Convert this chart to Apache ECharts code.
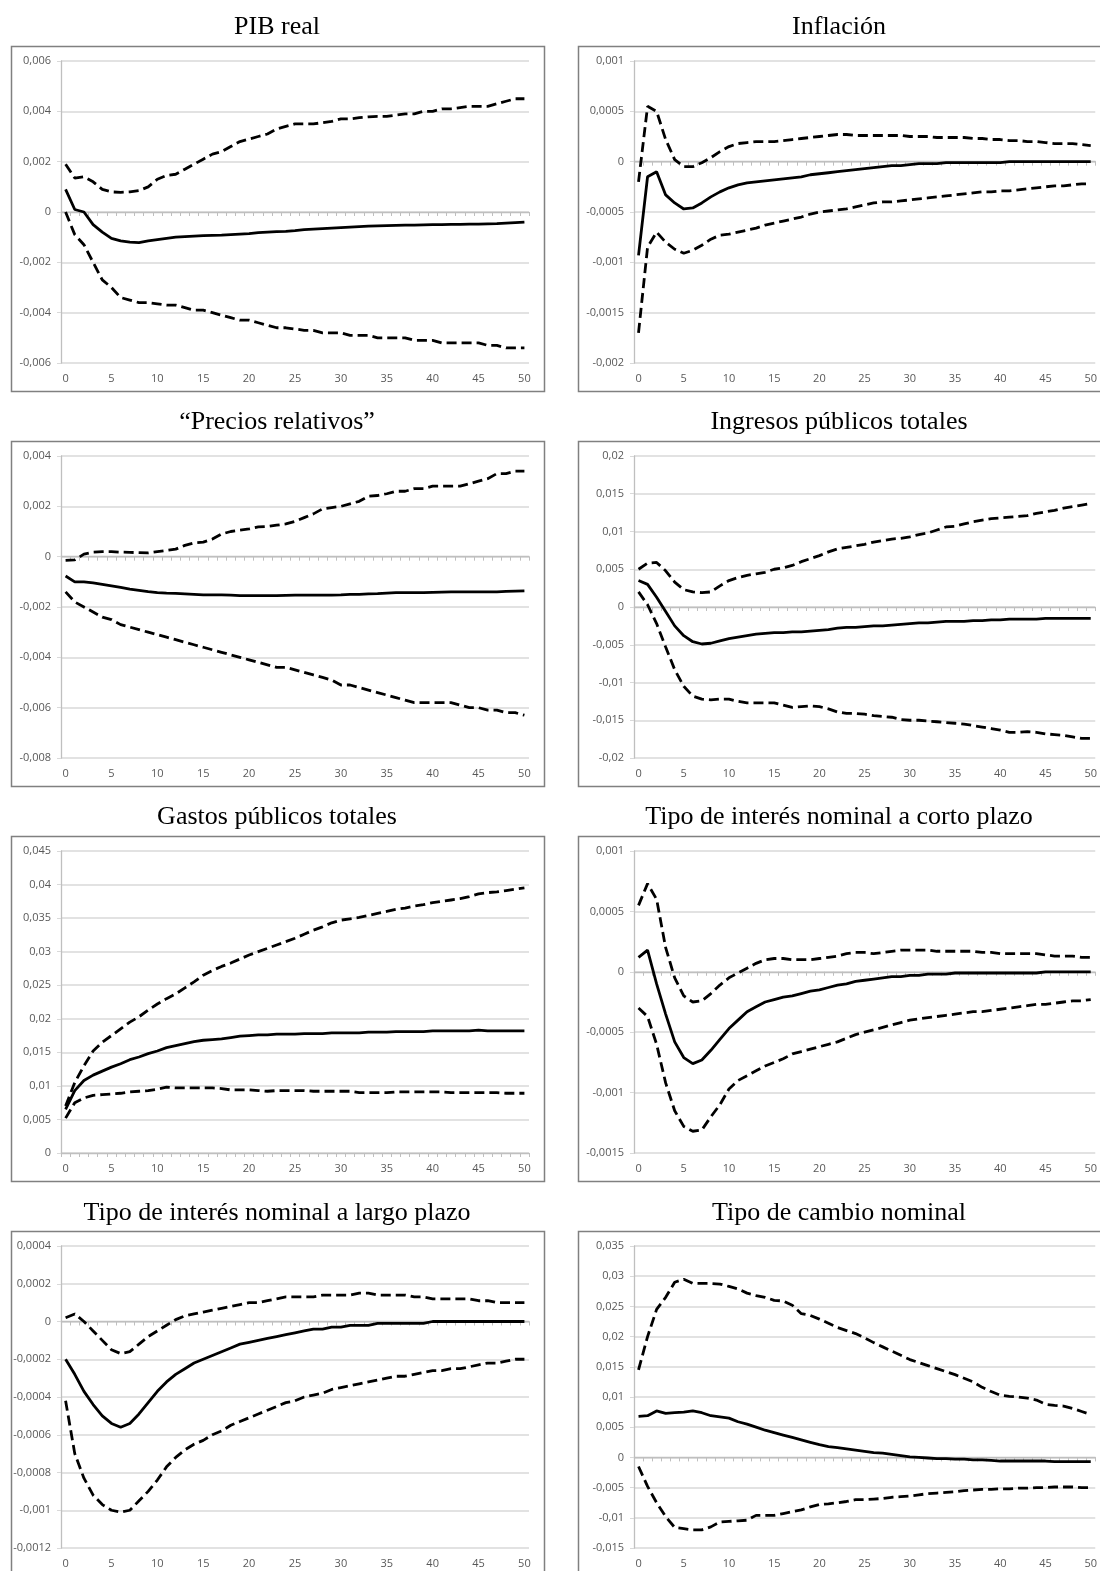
<!DOCTYPE html>
<html><head><meta charset="utf-8">
<script src="https://cdn.jsdelivr.net/npm/echarts@6/dist/echarts.min.js"></script>
<style>html,body{margin:0;padding:0;background:#fff}#c{width:1100px;height:1571px}</style>
</head><body><div id="c"></div>
<script>
const periods = ['0','1','2','3','4','5','6','7','8','9','10','11','12','13','14','15','16','17','18','19','20','21','22','23','24','25','26','27','28','29','30','31','32','33','34','35','36','37','38','39','40','41','42','43','44','45','46','47','48','49','50'];

const panelTitles = ['PIB real', 'Inflación', '\u201CPrecios relativos\u201D', 'Ingresos públicos totales',
  'Gastos públicos totales', 'Tipo de interés nominal a corto plazo', 'Tipo de interés nominal a largo plazo', 'Tipo de cambio nominal'];
const yMins  = [-0.006, -0.002, -0.008, -0.02, 0, -0.0015, -0.0012, -0.015];
const yMaxs  = [0.006, 0.001, 0.004, 0.02, 0.045, 0.001, 0.0004, 0.035];
const ySteps = [0.002, 0.0005, 0.002, 0.005, 0.005, 0.0005, 0.0002, 0.005];

// PIB real
const pibMid = [0.0009,0.0001,0.0,-0.0005,-0.0008,-0.00105,-0.00115,-0.0012,-0.00122,-0.00115,-0.0011,-0.00105,-0.001,-0.00098,-0.00096,-0.00094,-0.00093,-0.00092,-0.0009,-0.00088,-0.00086,-0.00082,-0.0008,-0.00078,-0.00077,-0.00074,-0.0007,-0.00068,-0.00066,-0.00064,-0.00062,-0.0006,-0.00058,-0.00056,-0.00055,-0.00054,-0.00053,-0.00052,-0.00052,-0.00051,-0.0005,-0.0005,-0.00049,-0.00049,-0.00048,-0.00048,-0.00047,-0.00046,-0.00044,-0.00042,-0.0004];
const pibUp = [0.0019,0.00135,0.0014,0.0012,0.0009,0.0008,0.00078,0.0008,0.00085,0.001,0.0013,0.00145,0.0015,0.0017,0.0019,0.0021,0.0023,0.0024,0.0026,0.0028,0.0029,0.003,0.0031,0.0033,0.0034,0.0035,0.0035,0.0035,0.00355,0.0036,0.0037,0.0037,0.00375,0.00378,0.0038,0.0038,0.00385,0.0039,0.0039,0.004,0.004,0.0041,0.0041,0.00415,0.0042,0.0042,0.0042,0.0043,0.0044,0.0045,0.0045];
const pibLow = [0.0,-0.0009,-0.0013,-0.002,-0.0027,-0.003,-0.0034,-0.0035,-0.0036,-0.0036,-0.00365,-0.0037,-0.0037,-0.0038,-0.0039,-0.0039,-0.004,-0.0041,-0.0042,-0.0043,-0.0043,-0.0044,-0.0045,-0.0046,-0.0046,-0.00465,-0.0047,-0.0047,-0.0048,-0.0048,-0.0048,-0.0049,-0.0049,-0.0049,-0.005,-0.005,-0.005,-0.005,-0.0051,-0.0051,-0.0051,-0.0052,-0.0052,-0.0052,-0.0052,-0.0052,-0.0053,-0.0053,-0.0054,-0.0054,-0.0054];

// Inflación
const infMid = [-0.00093,-0.00015,-0.0001,-0.00033,-0.00041,-0.00047,-0.00046,-0.00041,-0.00035,-0.0003,-0.00026,-0.00023,-0.00021,-0.0002,-0.00019,-0.00018,-0.00017,-0.00016,-0.00015,-0.00013,-0.00012,-0.00011,-0.0001,-0.00009,-0.00008,-0.00007,-0.00006,-0.00005,-0.00004,-0.00004,-0.00003,-0.00002,-0.00002,-0.00002,-0.00001,-0.00001,-0.00001,-0.00001,-0.00001,-0.00001,-0.00001,0,0,0,0,0,0,0,0,0,0];
const infUp = [-0.0002,0.00055,0.0005,0.00022,0.00002,-0.00005,-0.00005,-0.00001,0.00004,0.0001,0.00015,0.00018,0.00019,0.0002,0.0002,0.0002,0.00021,0.00022,0.00023,0.00024,0.00025,0.00026,0.00027,0.00027,0.00026,0.00026,0.00026,0.00026,0.00026,0.00026,0.00025,0.00025,0.00025,0.00024,0.00024,0.00024,0.00024,0.00023,0.00023,0.00022,0.00022,0.00021,0.00021,0.0002,0.0002,0.00019,0.00018,0.00018,0.00018,0.00017,0.00016];
const infLow = [-0.0017,-0.00085,-0.0007,-0.0008,-0.00087,-0.00091,-0.00088,-0.00083,-0.00077,-0.00073,-0.00072,-0.0007,-0.00068,-0.00066,-0.00063,-0.00061,-0.00059,-0.00057,-0.00055,-0.00052,-0.0005,-0.00049,-0.00048,-0.00047,-0.00045,-0.00043,-0.00041,-0.0004,-0.0004,-0.00039,-0.00038,-0.00037,-0.00036,-0.00035,-0.00034,-0.00033,-0.00032,-0.00031,-0.0003,-0.0003,-0.00029,-0.00029,-0.00028,-0.00027,-0.00026,-0.00025,-0.00024,-0.00024,-0.00023,-0.00022,-0.00022];

// Precios relativos
const preMid = [-0.00077,-0.001,-0.001,-0.00104,-0.0011,-0.00116,-0.00122,-0.00129,-0.00134,-0.00139,-0.00143,-0.00145,-0.00146,-0.00148,-0.0015,-0.00152,-0.00152,-0.00152,-0.00153,-0.00155,-0.00155,-0.00155,-0.00155,-0.00155,-0.00154,-0.00153,-0.00153,-0.00153,-0.00153,-0.00153,-0.00152,-0.0015,-0.0015,-0.00148,-0.00147,-0.00145,-0.00143,-0.00143,-0.00143,-0.00143,-0.00142,-0.00141,-0.0014,-0.0014,-0.0014,-0.0014,-0.0014,-0.0014,-0.00138,-0.00137,-0.00136];
const preUp = [-0.00015,-0.00013,0.0001,0.00018,0.0002,0.0002,0.00018,0.00017,0.00016,0.00015,0.0002,0.00025,0.0003,0.00045,0.00055,0.00058,0.0007,0.0009,0.001,0.00105,0.0011,0.00118,0.0012,0.00125,0.0013,0.0014,0.00155,0.0017,0.0019,0.00195,0.002,0.0021,0.0022,0.0024,0.00243,0.0025,0.0026,0.0026,0.0027,0.0027,0.0028,0.0028,0.0028,0.0028,0.0029,0.003,0.0031,0.0033,0.0033,0.0034,0.0034];
const preLow = [-0.0014,-0.0018,-0.002,-0.0022,-0.0024,-0.0025,-0.0027,-0.0028,-0.0029,-0.003,-0.0031,-0.0032,-0.0033,-0.0034,-0.0035,-0.0036,-0.0037,-0.0038,-0.0039,-0.004,-0.0041,-0.0042,-0.0043,-0.0044,-0.0044,-0.0045,-0.0046,-0.0047,-0.0048,-0.0049,-0.0051,-0.0051,-0.0052,-0.0053,-0.0054,-0.0055,-0.0056,-0.0057,-0.0058,-0.0058,-0.0058,-0.0058,-0.0058,-0.0059,-0.006,-0.006,-0.0061,-0.0061,-0.0062,-0.0062,-0.0063];

// Ingresos públicos totales
const ingMid = [0.0035,0.003,0.0013,-0.0006,-0.0025,-0.0038,-0.0046,-0.0049,-0.0048,-0.0045,-0.0042,-0.004,-0.0038,-0.0036,-0.0035,-0.0034,-0.0034,-0.0033,-0.0033,-0.0032,-0.0031,-0.003,-0.0028,-0.0027,-0.0027,-0.0026,-0.0025,-0.0025,-0.0024,-0.0023,-0.0022,-0.0021,-0.0021,-0.002,-0.0019,-0.0019,-0.0019,-0.0018,-0.0018,-0.0017,-0.0017,-0.0016,-0.0016,-0.0016,-0.0016,-0.0015,-0.0015,-0.0015,-0.0015,-0.0015,-0.0015];
const ingUp = [0.005,0.0058,0.0059,0.0048,0.0033,0.0023,0.002,0.0019,0.002,0.0028,0.0035,0.0039,0.0042,0.0044,0.0046,0.005,0.0052,0.0055,0.006,0.0064,0.0068,0.0073,0.0077,0.0079,0.0081,0.0083,0.0086,0.0088,0.009,0.0091,0.0093,0.0096,0.0098,0.0102,0.0106,0.0107,0.011,0.0113,0.0115,0.0117,0.0118,0.0119,0.012,0.0121,0.0124,0.0126,0.0128,0.0131,0.0133,0.0135,0.0137];
const ingLow = [0.002,0.0003,-0.0022,-0.0053,-0.0083,-0.0105,-0.0118,-0.0122,-0.0123,-0.0122,-0.0122,-0.0125,-0.0127,-0.0127,-0.0127,-0.0127,-0.013,-0.0133,-0.0132,-0.0131,-0.0132,-0.0135,-0.0139,-0.0141,-0.0141,-0.0142,-0.0144,-0.0145,-0.0146,-0.0149,-0.015,-0.015,-0.0151,-0.0152,-0.0153,-0.0154,-0.0155,-0.0157,-0.0159,-0.0161,-0.0163,-0.0166,-0.0166,-0.0165,-0.0166,-0.0168,-0.0169,-0.017,-0.0172,-0.0174,-0.0174];

// Gastos públicos totales
const gasMid = [0.0065,0.0093,0.0108,0.0116,0.0122,0.0128,0.0133,0.0139,0.0143,0.0148,0.0152,0.0157,0.016,0.0163,0.0166,0.0168,0.0169,0.017,0.0172,0.0174,0.0175,0.0176,0.0176,0.0177,0.0177,0.0177,0.0178,0.0178,0.0178,0.0179,0.0179,0.0179,0.0179,0.018,0.018,0.018,0.0181,0.0181,0.0181,0.0181,0.0182,0.0182,0.0182,0.0182,0.0182,0.0183,0.0182,0.0182,0.0182,0.0182,0.0182];
const gasUp = [0.007,0.0105,0.013,0.0152,0.0165,0.0175,0.0185,0.0195,0.0203,0.0213,0.0222,0.023,0.0237,0.0246,0.0255,0.0265,0.0272,0.0278,0.0283,0.0289,0.0295,0.03,0.0305,0.031,0.0315,0.032,0.0326,0.0332,0.0337,0.0343,0.0347,0.0349,0.0351,0.0354,0.0357,0.036,0.0363,0.0365,0.0368,0.037,0.0373,0.0375,0.0377,0.0379,0.0382,0.0386,0.0388,0.0389,0.0391,0.0393,0.0395];
const gasLow = [0.0052,0.0075,0.0082,0.0086,0.0087,0.0088,0.0089,0.0091,0.0092,0.0093,0.0095,0.0098,0.0097,0.0097,0.0097,0.0097,0.0097,0.0096,0.0094,0.0094,0.0094,0.0093,0.0092,0.0093,0.0093,0.0093,0.0093,0.0092,0.0092,0.0092,0.0092,0.0092,0.009,0.009,0.009,0.009,0.0091,0.0091,0.0091,0.0091,0.0091,0.0091,0.009,0.009,0.009,0.009,0.009,0.009,0.0089,0.0089,0.0089];

// Tipo de interés nominal a corto plazo
const ctoMid = [0.00012,0.00018,-0.0001,-0.00035,-0.00058,-0.00071,-0.00076,-0.00073,-0.00065,-0.00056,-0.00047,-0.0004,-0.00033,-0.00029,-0.00025,-0.00023,-0.00021,-0.0002,-0.00018,-0.00016,-0.00015,-0.00013,-0.00011,-0.0001,-0.00008,-0.00007,-0.00006,-0.00005,-0.00004,-0.00004,-0.00003,-0.00003,-0.00002,-0.00002,-0.00002,-0.00001,-0.00001,-0.00001,-0.00001,-0.00001,-0.00001,-0.00001,-0.00001,-0.00001,-0.00001,0,0,0,0,0,0];
const ctoUp = [0.00055,0.00073,0.0006,0.0002,-0.00005,-0.0002,-0.00025,-0.00024,-0.00018,-0.00011,-0.00005,-0.00001,0.00003,0.00007,0.0001,0.00011,0.00011,0.0001,0.0001,0.0001,0.00011,0.00012,0.00013,0.00015,0.00016,0.00016,0.00015,0.00016,0.00017,0.00018,0.00018,0.00018,0.00018,0.00017,0.00017,0.00017,0.00017,0.00017,0.00016,0.00016,0.00015,0.00015,0.00015,0.00015,0.00015,0.00014,0.00013,0.00013,0.00013,0.00012,0.00012];
const ctoLow = [-0.0003,-0.00037,-0.0006,-0.00092,-0.00115,-0.00128,-0.00132,-0.00131,-0.0012,-0.0011,-0.00097,-0.0009,-0.00086,-0.00082,-0.00078,-0.00075,-0.00072,-0.00068,-0.00066,-0.00064,-0.00062,-0.0006,-0.00058,-0.00055,-0.00052,-0.0005,-0.00048,-0.00046,-0.00044,-0.00042,-0.0004,-0.00039,-0.00038,-0.00037,-0.00036,-0.00035,-0.00034,-0.00033,-0.00033,-0.00032,-0.00031,-0.0003,-0.00029,-0.00028,-0.00027,-0.00027,-0.00026,-0.00025,-0.00024,-0.00024,-0.00023];

// Tipo de interés nominal a largo plazo
const lgoMid = [-0.0002,-0.00028,-0.00037,-0.00044,-0.0005,-0.00054,-0.00056,-0.00054,-0.00049,-0.00043,-0.00037,-0.00032,-0.00028,-0.00025,-0.00022,-0.0002,-0.00018,-0.00016,-0.00014,-0.00012,-0.00011,-0.0001,-0.00009,-0.00008,-0.00007,-0.00006,-0.00005,-0.00004,-0.00004,-0.00003,-0.00003,-0.00002,-0.00002,-0.00002,-0.00001,-0.00001,-0.00001,-0.00001,-0.00001,-0.00001,0,0,0,0,0,0,0,0,0,0,0];
const lgoUp = [0.00002,0.00004,0.0,-0.00005,-0.0001,-0.00015,-0.00017,-0.00016,-0.00012,-0.00008,-0.00005,-0.00002,0.00001,0.00003,0.00004,0.00005,0.00006,0.00007,0.00008,0.00009,0.0001,0.0001,0.00011,0.00012,0.00013,0.00013,0.00013,0.00013,0.00014,0.00014,0.00014,0.00014,0.00015,0.00015,0.00014,0.00014,0.00014,0.00014,0.00013,0.00013,0.00012,0.00012,0.00012,0.00012,0.00012,0.00011,0.00011,0.0001,0.0001,0.0001,0.0001];
const lgoLow = [-0.00042,-0.0007,-0.00083,-0.00092,-0.00097,-0.001,-0.00101,-0.001,-0.00095,-0.0009,-0.00084,-0.00077,-0.00072,-0.00068,-0.00065,-0.00063,-0.0006,-0.00058,-0.00055,-0.00053,-0.00051,-0.00049,-0.00047,-0.00045,-0.00043,-0.00042,-0.0004,-0.00039,-0.00038,-0.00036,-0.00035,-0.00034,-0.00033,-0.00032,-0.00031,-0.0003,-0.00029,-0.00029,-0.00028,-0.00027,-0.00026,-0.00026,-0.00025,-0.00025,-0.00024,-0.00023,-0.00022,-0.00022,-0.00021,-0.0002,-0.0002];

// Tipo de cambio nominal
const camMid = [0.0068,0.0069,0.0077,0.0073,0.0074,0.0075,0.0077,0.0074,0.0069,0.0067,0.0065,0.0059,0.0055,0.005,0.0045,0.0041,0.0037,0.0033,0.0029,0.0025,0.0021,0.0018,0.0016,0.0014,0.0012,0.001,0.0008,0.0007,0.0005,0.0003,0.0001,0.0,-0.0001,-0.0002,-0.0002,-0.0003,-0.0003,-0.0004,-0.0004,-0.0005,-0.0006,-0.0006,-0.0006,-0.0006,-0.0006,-0.0006,-0.0007,-0.0007,-0.0007,-0.0007,-0.0007];
const camUp = [0.0145,0.02,0.0245,0.0265,0.029,0.0295,0.0288,0.0288,0.0288,0.0287,0.0283,0.0279,0.0272,0.0268,0.0265,0.026,0.0259,0.0252,0.0238,0.0235,0.0229,0.0222,0.0215,0.021,0.0205,0.0198,0.019,0.0183,0.0176,0.0169,0.0162,0.0157,0.0152,0.0147,0.0142,0.0137,0.0131,0.0125,0.0116,0.0109,0.0103,0.0101,0.01,0.0098,0.0095,0.0088,0.0086,0.0085,0.0081,0.0076,0.0071];
const camLow = [-0.0015,-0.0048,-0.0075,-0.0098,-0.0116,-0.0118,-0.012,-0.012,-0.0115,-0.0107,-0.0106,-0.0105,-0.0104,-0.0096,-0.0096,-0.0096,-0.0093,-0.009,-0.0087,-0.0082,-0.0078,-0.0077,-0.0075,-0.0073,-0.007,-0.007,-0.0069,-0.0068,-0.0066,-0.0065,-0.0064,-0.0062,-0.006,-0.0059,-0.0058,-0.0057,-0.0055,-0.0054,-0.0053,-0.0053,-0.0052,-0.0052,-0.0051,-0.0051,-0.005,-0.005,-0.0049,-0.0049,-0.0049,-0.005,-0.005];

const panelData = [
  [pibMid, pibUp, pibLow], [infMid, infUp, infLow],
  [preMid, preUp, preLow], [ingMid, ingUp, ingLow],
  [gasMid, gasUp, gasLow], [ctoMid, ctoUp, ctoLow],
  [lgoMid, lgoUp, lgoLow], [camMid, camUp, camLow]
];

// ---- layout ----
const colPlotLeft = [61, 634];
const colPlotWidth = [468, 463];
const colBoxLeft = [11, 578];
const colBoxWidth = [533, 530];
const rowPlotTop = [61, 456, 851, 1246];
const plotHeight = 302;
const rowBoxTop = [46, 441, 836, 1231];
const boxHeight = 345;
const rowTitleY = [27, 422, 817, 1213];
const colTitleX = [277, 839];

const fmt = v => String(+(+v).toPrecision(6)).replace('.', ',');
const labelStyle = { fontFamily: 'Open Sans', fontSize: 11, color: '#595959' };
const gridGray = '#d9d9d9';

const grids = [], xAxes = [], yAxes = [], series = [], graphics = [];
for (let p = 0; p < 8; p++) {
  const col = p % 2, row = Math.floor(p / 2);
  grids.push({ left: colPlotLeft[col], top: rowPlotTop[row], width: colPlotWidth[col], height: plotHeight });
  // label axis (bottom)
  xAxes.push({
    type: 'category', gridIndex: p, data: periods, position: 'bottom', boundaryGap: true,
    axisLine: { show: false, onZero: false }, axisTick: { show: false }, splitLine: { show: false },
    axisLabel: { interval: 4, margin: 10, hideOverlap: false, ...labelStyle }
  });
  // zero-line axis with minor ticks
  xAxes.push({
    type: 'category', gridIndex: p, data: periods, position: 'top', boundaryGap: true,
    axisLine: { show: true, onZero: true, lineStyle: { color: '#bfbfbf', width: 1.3 } },
    axisTick: { show: true, interval: 0, inside: true, length: 4, lineStyle: { color: '#bfbfbf', width: 1 } },
    axisLabel: { show: false }, splitLine: { show: false }
  });
  yAxes.push({
    type: 'value', gridIndex: p, min: yMins[p], max: yMaxs[p], interval: ySteps[p],
    axisLine: { show: true, onZero: false, lineStyle: { color: '#bfbfbf', width: 1.3 } },
    axisTick: { show: true, length: 4, lineStyle: { color: gridGray } },
    splitLine: { show: true, lineStyle: { color: gridGray, width: 1.5 } },
    axisLabel: { margin: 10, formatter: fmt, ...labelStyle }
  });
  const styles = [
    { color: '#000', width: 2.8, type: 'solid' },
    { color: '#000', width: 2.8, type: [10, 5] },
    { color: '#000', width: 2.8, type: [10, 5] }
  ];
  panelData[p].forEach((arr, k) => {
    series.push({
      type: 'line', xAxisIndex: 2 * p, yAxisIndex: p, data: arr,
      symbol: 'none', smooth: false, lineStyle: styles[k], silent: true, animation: false, z: 3
    });
  });
  graphics.push({
    type: 'rect', silent: true, z: -1,
    shape: { x: colBoxLeft[col] + 0.5, y: rowBoxTop[row] + 0.5, width: colBoxWidth[col], height: boxHeight },
    style: { fill: 'none', stroke: '#808080', lineWidth: 1.5 }
  });
  graphics.push({
    type: 'text', silent: true, x: colTitleX[col], y: rowTitleY[row],
    style: { text: panelTitles[p], textAlign: 'center', textVerticalAlign: 'middle',
      font: '26px "Liberation Serif", "Times New Roman", serif', fill: '#000' }
  });
}

const chart = echarts.init(document.getElementById('c'), null, { renderer: 'canvas' });
chart.setOption({
  animation: false,
  backgroundColor: '#fff',
  grid: grids, xAxis: xAxes, yAxis: yAxes, series: series,
  graphic: graphics
});
</script></body></html>
